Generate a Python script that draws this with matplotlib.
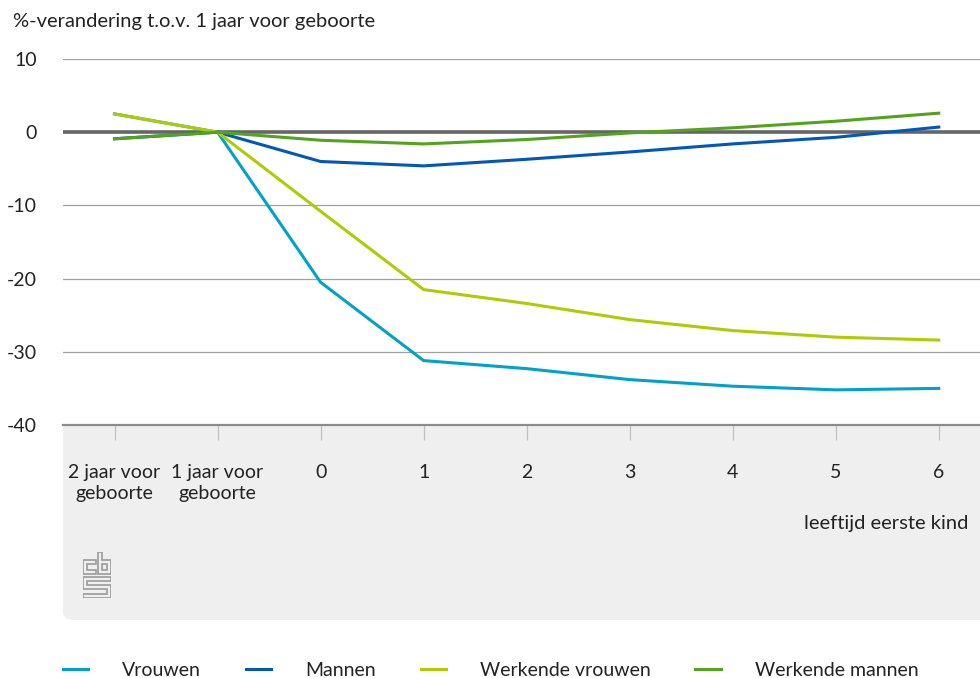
import matplotlib
matplotlib.use("Agg")
import matplotlib.pyplot as plt
from matplotlib.patches import FancyBboxPatch, Rectangle, Polygon

plt.rcParams['font.family'] = ['Lato', 'DejaVu Sans']

# data
categories = ['2 jaar voor\ngeboorte', '1 jaar voor\ngeboorte', '0', '1', '2', '3', '4', '5', '6']
vrouwen = [2.5, 0, -20.5, -31.2, -32.3, -33.8, -34.7, -35.2, -35.0]
mannen = [-0.9, 0, -4.0, -4.6, -3.7, -2.7, -1.6, -0.7, 0.7]
werkende_vrouwen = [2.5, 0, -10.8, -21.5, -23.4, -25.6, -27.1, -28.0, -28.4]
werkende_mannen = [-0.9, 0, -1.1, -1.6, -1.0, -0.1, 0.6, 1.5, 2.6]

series = [
    ('Vrouwen', vrouwen, '#00a1cd'),
    ('Mannen', mannen, '#0058b8'),
    ('Werkende vrouwen', werkende_vrouwen, '#afcb05'),
    ('Werkende mannen', werkende_mannen, '#53a31d'),
]

W, H = 980, 678
fig = plt.figure(figsize=(W / 100, H / 100), dpi=100)

# grey panel under the plot (rounded bottom-left corner only)
grey = '#efefef'
panel = FancyBboxPatch((63 / W, (H - 620) / H), (W - 63) / W + 0.05, (620 - 425) / H,
                       boxstyle='round,pad=0,rounding_size=0.012', transform=fig.transFigure,
                       facecolor=grey, edgecolor='none', zorder=-2)
fig.patches.append(panel)
fig.patches.append(Rectangle((63 / W, (H - 520) / H), (W - 63) / W, (520 - 425) / H,
                             transform=fig.transFigure, facecolor=grey, edgecolor='none', zorder=-2))

ax = fig.add_axes([63 / W, (H - 425) / H, (W - 63) / W, (425 - 59) / H])
ax.patch.set_alpha(0)

x = list(range(len(categories)))
for name, vals, col in series:
    ax.plot(x, vals, color=col, lw=2.2, label=name, zorder=3, solid_joinstyle='round')

ax.set_xlim(-0.5, 8.4)
ax.set_ylim(-40, 10)
ax.set_yticks([10, 0, -10, -20, -30, -40])
ax.set_yticklabels(['10', '0', '-10', '-20', '-30', '-40'])
for yv in [10, -10, -20, -30]:
    ax.axhline(yv, color='#a0a0a0', lw=0.9, zorder=1)
ax.axhline(0, color='#666666', lw=2.6, zorder=2)

for s in ['top', 'right', 'left']:
    ax.spines[s].set_visible(False)
ax.spines['bottom'].set_color('#8c8c8c')
ax.spines['bottom'].set_linewidth(1.6)

ax.set_xticks(x)
ax.set_xticklabels(categories, fontsize=14, color='#222222', linespacing=1.3)
ax.tick_params(axis='x', length=11, width=0.9, color='#c0c0c0', pad=17, direction='out')
ax.tick_params(axis='y', length=0, pad=19, labelsize=14, labelcolor='#222222')

fig.text(13 / W, 1 - 21 / H, '%-verandering t.o.v. 1 jaar voor geboorte', fontsize=14.5,
         color='#222222', va='center', ha='left')
fig.text(968 / W, 1 - 523 / H, 'leeftijd eerste kind', fontsize=14.5,
         color='#222222', va='center', ha='right')

# cbs logo (outlined shapes)
lg = fig.add_axes([83 / W, (H - 598) / H, 28 / W, 46 / H])
lg.axis('off')
lg.set_xlim(-0.5, 28.5)
lg.set_ylim(-0.5, 46.5)
lk = dict(closed=True, facecolor='none', edgecolor='#9a9a9a', lw=1.2)
logo_c = [(13, 38), (0, 38), (0, 24), (13, 24), (13, 28), (4, 28), (4, 34), (13, 34)]
logo_b = [(15, 46), (19, 46), (19, 38), (28, 38), (28, 24), (15, 24)]
logo_b_hole = [(19, 28), (24, 28), (24, 34), (19, 34)]
logo_s = [(28, 21), (0, 21), (0, 8.5), (24, 8.5), (24, 4), (0, 4), (0, 0), (28, 0),
          (28, 12.5), (4, 12.5), (4, 17), (28, 17)]
for shape in [logo_c, logo_b, logo_b_hole, logo_s]:
    lg.add_patch(Polygon(shape, **lk))

handles, labels = ax.get_legend_handles_labels()
fig.legend(handles, labels, loc='center left', bbox_to_anchor=(63 / W, 1 - 670 / H), ncol=4,
           frameon=False, fontsize=14, handlelength=1.3, handletextpad=1.75,
           columnspacing=2.3, borderpad=0, borderaxespad=0, labelcolor='#222222')

fig.savefig('out.png', dpi=100)
